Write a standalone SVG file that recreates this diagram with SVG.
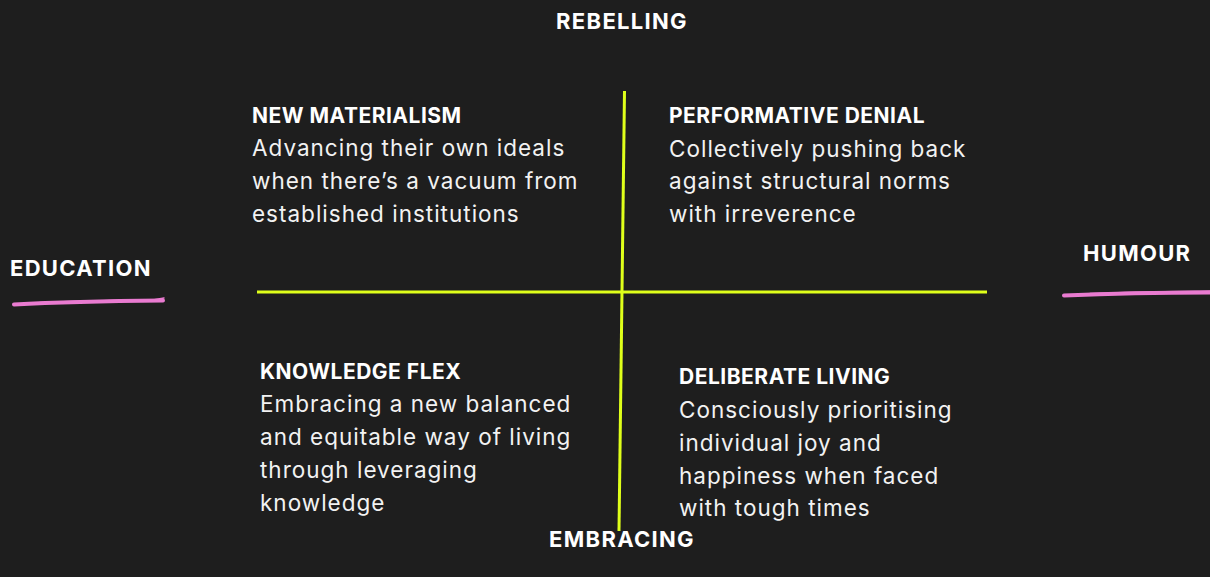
<svg xmlns="http://www.w3.org/2000/svg" width="1210" height="577" viewBox="0 0 1210 577">
  <style>
    .axis { font-family: Inter, "Noto Sans", sans-serif; font-weight: 700; font-size: 22px; fill: #ffffff; letter-spacing: 1.3px; }
    .title { font-family: Inter, "Noto Sans", sans-serif; font-weight: 700; font-size: 21px; fill: #ffffff; letter-spacing: 0.5px; }
    .body { font-family: Inter, "Noto Sans", sans-serif; font-weight: 400; font-size: 22.5px; fill: #f2f2f2; letter-spacing: 1px; }
    .grid { stroke: #dfff1a; stroke-width: 3; fill: none; }
    .mark { stroke: #e97bd0; stroke-width: 4; fill: none; stroke-linecap: round; }
    .mark-thin { stroke: #e97bd0; stroke-width: 1.5; fill: none; stroke-linecap: round; }
  </style>
  <rect width="1210" height="577" fill="#1e1e1e"/>

  <!-- quadrant axes -->
  <g id="connectors">
    <line class="grid" x1="257" y1="292" x2="987" y2="292"/>
    <line class="grid" x1="624.5" y1="91" x2="619" y2="531"/>
  </g>

  <g id="axis-rebelling"><text class="axis" x="622" y="28.5" text-anchor="middle" letter-spacing="1.6">REBELLING</text></g>
  <g id="axis-embracing"><text class="axis" x="622" y="547" text-anchor="middle">EMBRACING</text></g>
  <g id="axis-education">
    <text class="axis" x="10" y="276">EDUCATION</text>
    <path class="mark" d="M14 304.5 C60 302 110 301 163 300.5"/>
    <path class="mark-thin" d="M40 302.5 C90 300.5 130 300 160 299.5 M150 300.5 L164 298"/>
  </g>
  <g id="axis-humour">
    <text class="axis" x="1083" y="260.5">HUMOUR</text>
    <path class="mark" d="M1064 295.5 C1110 293.5 1160 292.5 1210 292.5"/>
    <path class="mark-thin" d="M1090 293.5 C1140 292 1180 291.5 1210 291"/>
  </g>

  <g id="new-materialism">
    <text class="title" x="252" y="123">NEW MATERIALISM</text>
    <text class="body" x="252" y="156">Advancing their own ideals</text>
    <text class="body" x="252" y="189">when there’s a vacuum from</text>
    <text class="body" x="252" y="221.5">established institutions</text>
  </g>
  <g id="performative-denial">
    <text class="title" x="669" y="122.5">PERFORMATIVE DENIAL</text>
    <text class="body" x="669" y="156.5">Collectively pushing back</text>
    <text class="body" x="669" y="188.5">against structural norms</text>
    <text class="body" x="669" y="221.5">with irreverence</text>
  </g>
  <g id="knowledge-flex">
    <text class="title" x="260" y="378.5">KNOWLEDGE FLEX</text>
    <text class="body" x="260" y="412">Embracing a new balanced</text>
    <text class="body" x="260" y="445">and equitable way of living</text>
    <text class="body" x="260" y="478">through leveraging</text>
    <text class="body" x="260" y="511">knowledge</text>
  </g>
  <g id="deliberate-living">
    <text class="title" x="679" y="383.5">DELIBERATE LIVING</text>
    <text class="body" x="679" y="418">Consciously prioritising</text>
    <text class="body" x="679" y="451">individual joy and</text>
    <text class="body" x="679" y="483.5">happiness when faced</text>
    <text class="body" x="679" y="516">with tough times</text>
  </g>
</svg>
